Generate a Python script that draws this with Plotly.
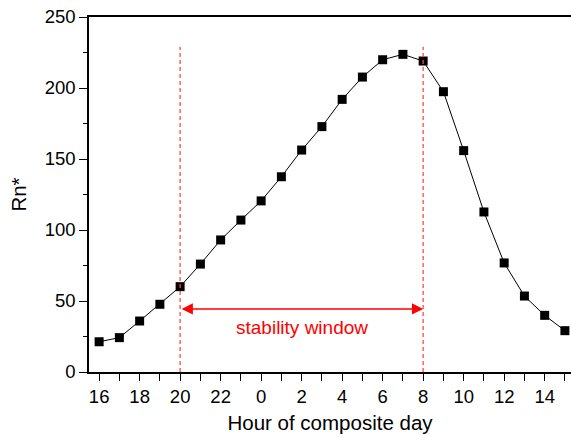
import plotly.graph_objects as go

hours = [16, 17, 18, 19, 20, 21, 22, 23, 0, 1, 2, 3, 4, 5, 6, 7, 8, 9, 10, 11, 12, 13, 14, 15]
rn = [21.3, 24.2, 35.9, 47.7, 60.1, 76, 93, 107, 120.5, 137.5, 156.3, 172.8, 192, 207.7, 219.9, 223.7,
      219, 197.4, 155.9, 112.7, 76.8, 53.5, 39.9, 29.1]
window_start = 20
window_end = 8
window_label = "stability window"
window_y = 44.4
label_y = 31
line_top = 229

xi = list(range(len(hours)))
ticktext = [str(h) if i % 2 == 0 else "" for i, h in enumerate(hours)]
xs = hours.index(window_start)
xe = hours.index(window_end)

fig = go.Figure()
fig.add_trace(go.Scatter(
    x=xi, y=rn, mode="lines+markers",
    line=dict(color="black", width=1),
    marker=dict(symbol="square", size=9, color="black"),
    showlegend=False,
))

for xv in (xs, xe):
    fig.add_shape(type="line", x0=xv, x1=xv, y0=0, y1=line_top, xref="x", yref="y",
                  line=dict(color="rgba(255,70,70,0.85)", width=1.5, dash="4px,3px"))

fig.add_annotation(x=xe, y=window_y, ax=xs, ay=window_y, xref="x", yref="y", axref="x", ayref="y",
                   showarrow=True, arrowhead=2, arrowside="end+start", arrowsize=1.5, arrowwidth=1.5,
                   arrowcolor="red", text="")
fig.add_annotation(x=(xs + xe) / 2, y=label_y, xref="x", yref="y", text=window_label, showarrow=False,
                   font=dict(color="red", size=19, family="Liberation Sans, Arial"))

fig.update_layout(
    width=571, height=437,
    margin=dict(l=89, r=0, t=17, b=65),
    plot_bgcolor="white", paper_bgcolor="white",
    font=dict(family="Liberation Sans, Arial", size=18.5, color="black"),
    xaxis=dict(
        range=[-0.5, 23.3], tickvals=xi, ticktext=ticktext,
        showgrid=False, zeroline=False, showline=True, linecolor="black", linewidth=1.5,
        mirror=True, ticks="outside", ticklen=7, tickwidth=1, tickcolor="black",
        title=dict(text="Hour of composite day", font=dict(size=20.5), standoff=10),
    ),
    yaxis=dict(
        range=[0, 250], tickvals=[0, 50, 100, 150, 200, 250],
        showgrid=False, zeroline=False, showline=True, linecolor="black", linewidth=1.5,
        ticks="outside", ticklen=8, tickwidth=1, tickcolor="black",
        minor=dict(tickvals=[25, 75, 125, 175, 225], ticks="outside", ticklen=4, tickcolor="black", tickwidth=1),
        title=dict(text="Rn*", font=dict(size=20.5), standoff=12),
    ),
)

fig.write_html("out.html")
